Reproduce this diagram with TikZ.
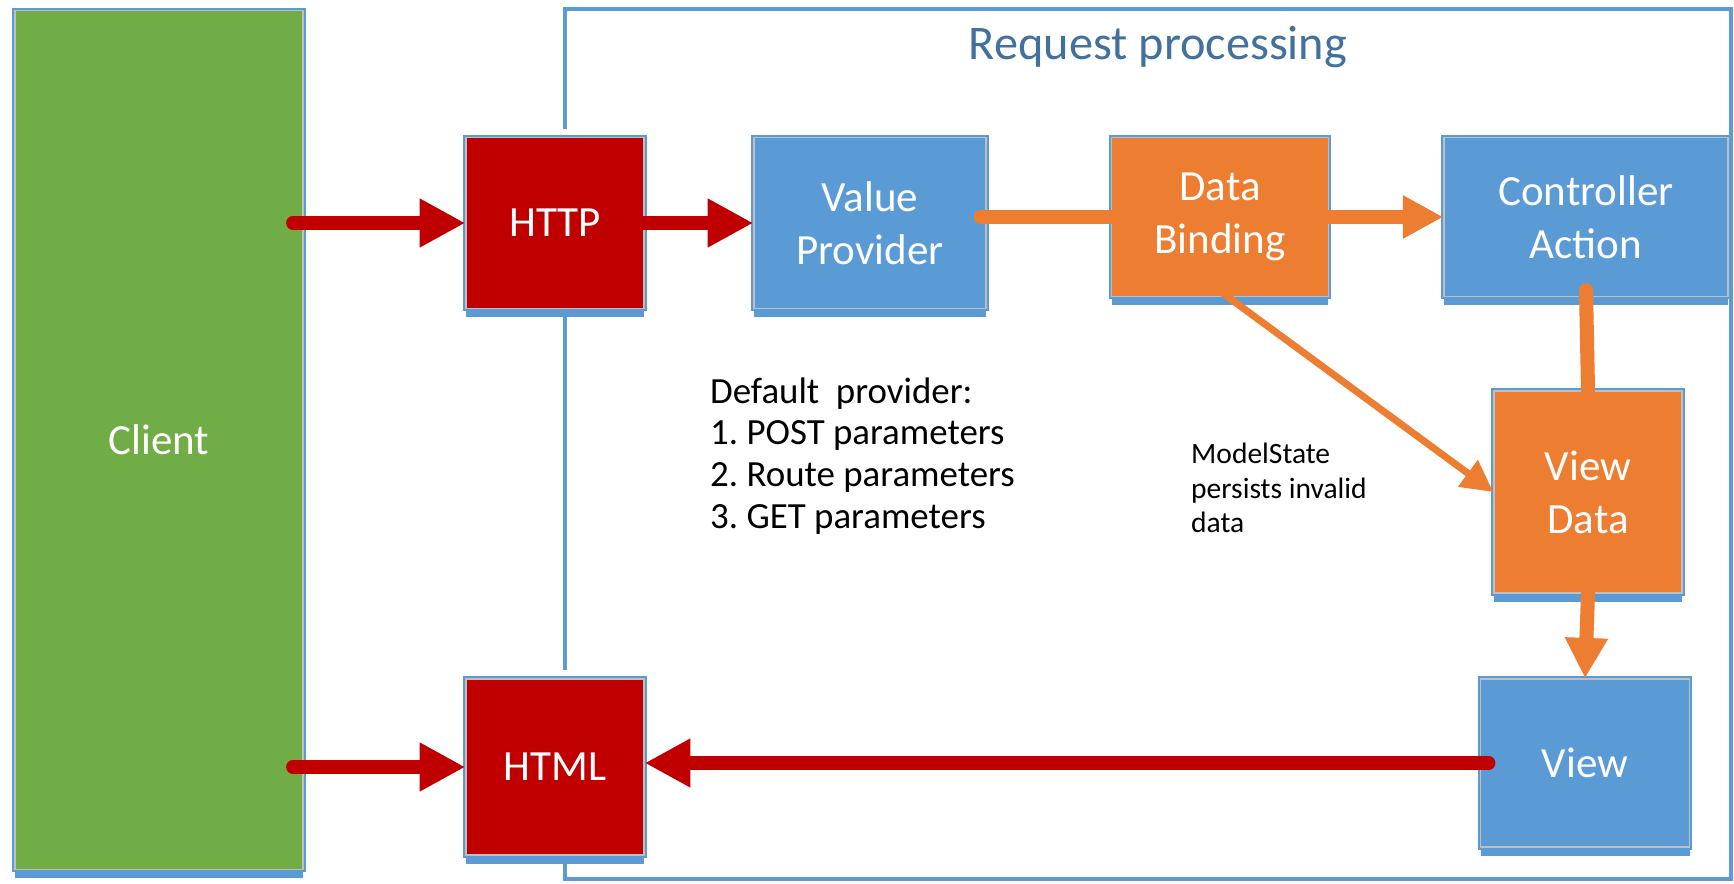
\documentclass[tikz,border=0pt]{standalone}
\usepackage{fontspec}
\setmainfont{Carlito}
\usetikzlibrary{arrows.meta,shadows}
\frenchspacing

\definecolor{boxred}{RGB}{192,0,0}
\definecolor{boxblue}{RGB}{91,155,213}
\definecolor{boxorange}{RGB}{237,125,49}
\definecolor{boxgreen}{RGB}{112,173,71}
\definecolor{edgeblue}{RGB}{91,155,213}
\definecolor{titleblue}{RGB}{65,113,156}

\tikzstyle{halo} = [preaction={draw=white, line width=10pt}]
\tikzstyle{block} = [rectangle, draw=black!25, line width=0.8pt, text=white, align=center, font=\fontsize{24.5}{30}\selectfont, general shadow={fill=edgeblue, shadow yshift=-5pt}, preaction={draw=edgeblue, line width=3pt}]
\tikzstyle{redline} = [draw=boxred, line width=7.5pt, line cap=round, -{Triangle[length=26pt, width=26pt]}]
\tikzstyle{orangeline} = [draw=boxorange, line width=8pt, line cap=round]

\begin{document}
\begin{tikzpicture}[x=0.02cm, y=-0.02cm]
        \useasboundingbox (0,0) rectangle (1734,884);
        % frame round the processing part
        \draw[edgeblue, line width=2.5pt] (565,9) rectangle (1731,879);
        \node (title) at (1158,47) [text=titleblue, font=\fontsize{27.5}{33}\selectfont] {Request processing};

        % boxes
        \node (client) at (159,440) [block, fill=boxgreen, minimum width=5.76cm, minimum height=17.18cm] {Client};
        \node (http) at (555,223) [halo, block, fill=boxred, minimum width=3.56cm, minimum height=3.42cm] {HTTP};
        \node (html) at (555,767) [halo, block, fill=boxred, minimum width=3.56cm, minimum height=3.52cm] {HTML};
        \node (vp) at (870,223) [block, fill=boxblue, minimum width=4.64cm, minimum height=3.42cm] {Value\\Provider};
        \node (db) at (1220,217) [block, fill=boxorange, minimum width=4.34cm, minimum height=3.18cm] {Data\\Binding};
        \node (ca) at (1586,217) [block, fill=boxblue, minimum width=5.68cm, minimum height=3.18cm] {Controller\\Action};
        \node (vd) at (1588,492) [block, fill=boxorange, minimum width=3.76cm, minimum height=4.04cm] {View\\Data};
        \node (view) at (1585,763) [block, fill=boxblue, minimum width=4.18cm, minimum height=3.36cm] {View};

        % notes
        \node (defaults) at (704,456) [anchor=west, align=left, font=\fontsize{21}{23.8}\selectfont] {Default\ \ provider:\\1. POST parameters\\2. Route parameters\\3. GET parameters};
        \node (note) at (1185,488) [anchor=west, align=left, font=\fontsize{16.8}{19.8}\selectfont] {ModelState\\persists invalid\\data};

        % request path
        \draw[redline] ([xshift=-0.22cm]client.east |- http.west) -- (http.west);
        \draw[redline] ([xshift=-0.12cm]http.east) -- (vp.west);
        \draw[orangeline] ([xshift=-0.12cm]vp.east |- db.west) -- (db.west);
        \draw[orangeline, -{Triangle[length=23pt, width=23pt]}] (db.east) -- (ca.west);
        \draw[orangeline, line width=4pt, -{Triangle[length=18pt, width=18pt]}] ([yshift=0.12cm]db.south) -- (vd.west);
        \draw[orangeline] ([yshift=0.14cm]ca.south) -- (vd.north);
        \draw[orangeline, -{Triangle[length=23pt, width=23pt]}] (vd.south) -- (view.north);

        % response path
        \draw[redline] ([xshift=0.18cm]view.west) -- (html.east |- view.west);
        \draw[redline] ([xshift=-0.22cm]client.east |- html.west) -- (html.west);
\end{tikzpicture}
\end{document}
